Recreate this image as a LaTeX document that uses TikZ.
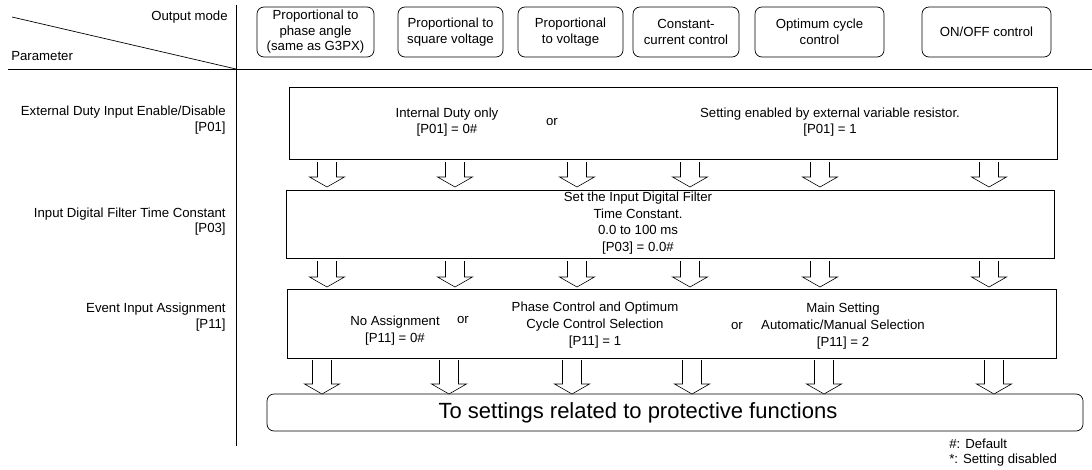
\documentclass[tikz,border=0pt]{standalone}
\usepackage{fontspec}
\setmainfont{Liberation Sans}
\usetikzlibrary{positioning}

\begin{document}
\begin{tikzpicture}[
  x=1pt, y=-1pt,
  every node/.style={font=\fontsize{13.2}{15.5}\selectfont, inner sep=1pt},
  modebox/.style={draw, rounded corners=7pt, align=center, minimum height=50pt},
  parambox/.style={draw, minimum width=768pt},
  boxtext/.style={align=center},
  rowlabel/.style={align=right, anchor=east},
  line width=0.7pt,
  pics/blockarrow/.style={code={
    \draw[fill=white, line width=0.6pt] (-9.5,0) -- (-9.5,#1-10) -- (-17.5,#1-10)
      -- (0,#1) -- (17.5,#1-10) -- (9.5,#1-10) -- (9.5,0);
  }}
]
\useasboundingbox (0,0) rectangle (1092,469);

% table head
\draw (236,5) -- (236,446);
\draw (8,69) -- (1092,69);
\draw (12,17) -- (236,69);
\node[anchor=east] (outmode) at (229,17) {Output mode};
\node[anchor=west] (param) at (10,56) {Parameter};

% output modes
\node[modebox, minimum width=117pt] (mode1) at (315.5,32) {Proportional to\\phase angle\\(same as G3PX)};
\node[modebox, minimum width=105pt] (mode2) at (450.5,32) {Proportional to\\square voltage};
\node[modebox, minimum width=105pt] (mode3) at (570.5,32) {Proportional\\to voltage};
\node[modebox, minimum width=106pt] (mode4) at (686,32) {Constant-\\current control};
\node[modebox, minimum width=129pt] (mode5) at (819.5,32) {Optimum cycle\\control};
\node[modebox, minimum width=129pt] (mode6) at (986.5,32) {ON/OFF control};

% parameter names
\node[rowlabel] (lab01) at (227,120) {External Duty Input Enable/Disable\\{}[P01]};
\node[rowlabel] (lab03) at (227,221.5) {Input Digital Filter Time Constant\\{}[P03]};
\node[rowlabel] (lab11) at (227,317) {Event Input Assignment\\{}[P11]};

% P01
\node[parambox, minimum height=72pt] (p01) at (673,123) {};
\node[boxtext] (p01a) at (447,122) {Internal Duty only\\{}[P01] = 0\#};
\node (or1) at (552,122) {or};
\node[boxtext] (p01b) at (830,122) {Setting enabled by external variable resistor.\\{}[P01] = 1};

% P03
\node[parambox, minimum height=68pt] (p03) at (670,224) {};
\node[boxtext, font=\fontsize{13.2}{16.5}\selectfont] (p03a) at (638,223) {Set the Input Digital Filter\\Time Constant.\\0.0 to 100 ms\\{}[P03] = 0.0\#};

% P11
\node[parambox, minimum width=769pt, minimum height=69pt] (p11) at (671.5,323.5) {};
\node[boxtext, font=\fontsize{13.2}{17}\selectfont] (p11a) at (395,331) {No Assignment\\{}[P11] = 0\#};
\node (or2) at (463,320) {or};
\node[boxtext, font=\fontsize{13.2}{17}\selectfont] (p11b) at (595,325) {Phase Control and Optimum\\Cycle Control Selection\\{}[P11] = 1};
\node (or3) at (737,326) {or};
\node[boxtext, font=\fontsize{13.2}{17}\selectfont] (p11c) at (843,326) {Main Setting\\Automatic/Manual Selection\\{}[P11] = 2};

% protective functions
\node[draw, rounded corners=7pt, minimum width=816pt, minimum height=37pt] (prot) at (675,412.5) {};
\node[font=\fontsize{22}{25}\selectfont] (prottext) at (638,413) {To settings related to protective functions};

% arrows
\foreach \x in {327,455,577,690,820,989}
  \pic at (\x,162) {blockarrow=25};
\foreach \x in {327,455,577,690,820,989}
  \pic at (\x,261) {blockarrow=26};
\foreach \x in {322,449,572,692,824,994}
  \pic at (\x,360) {blockarrow=34};

\node[align=left, anchor=west] (legend) at (948,452.5) {\#: Default\\*: Setting disabled};
\end{tikzpicture}
\end{document}
